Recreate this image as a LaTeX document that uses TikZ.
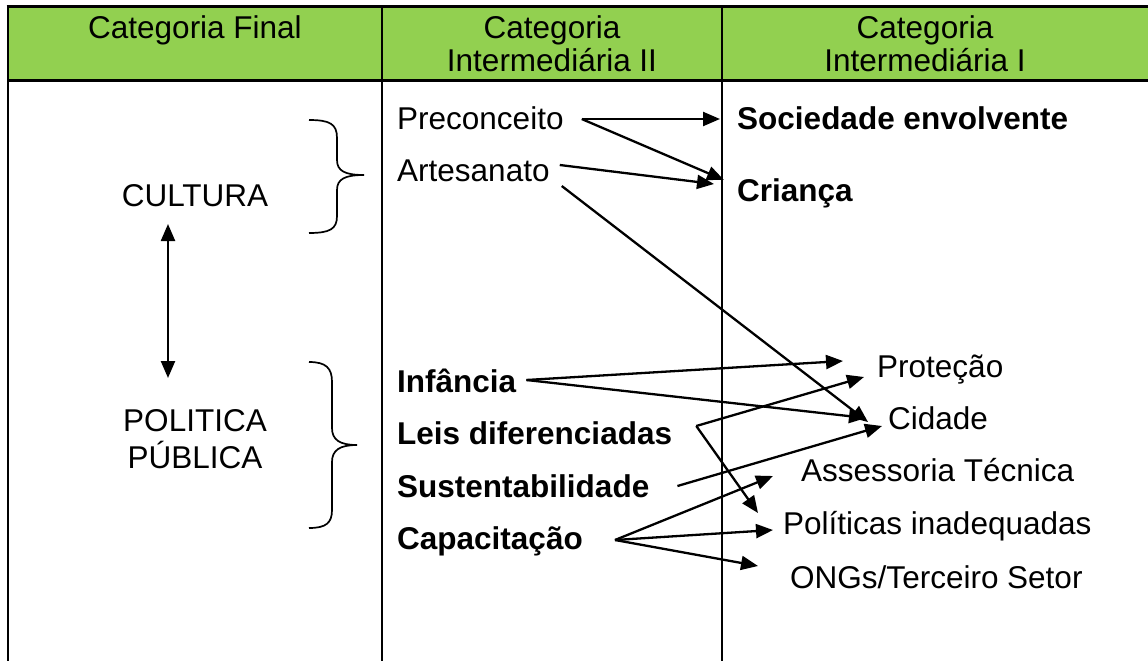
\documentclass[tikz,border=0pt]{standalone}
\usepackage{fontspec}
\setmainfont{Liberation Sans}
\usetikzlibrary{arrows.meta}
\definecolor{hdrgreen}{HTML}{92D050}
\begin{document}
\begin{tikzpicture}[x=1pt,y=-1pt,
  txt/.style={inner sep=0pt,font=\fontsize{31.5}{37}\selectfont},
  btxt/.style={txt,font=\fontsize{31.5}{37}\selectfont\bfseries},
  tip/.style={},
  arr/.style={line width=2.3pt,-{Triangle[length=17pt,width=14pt]}},
  rule/.style={line width=2.2pt},
  brace/.style={line width=1.7pt}]
\useasboundingbox (0,0) rectangle (1148,661);
% header
\fill[hdrgreen] (8,7) rectangle (1148,80);
\draw[line width=3pt] (6.5,7) -- (1148,7);
\draw[rule] (8,80.5) -- (1148,80.5);
\draw[rule] (8,6) -- (8,661);
\draw[rule] (382,7) -- (382,661);
\draw[rule] (722,7) -- (722,661);
% header texts
\node[txt,anchor=base] (h1) at (195,38) {Categoria Final};
\node[txt,anchor=base] (h2a) at (552,38) {Categoria};
\node[txt,anchor=base] (h2b) at (552,71) {Intermediária II};
\node[txt,anchor=base] (h3a) at (925,38) {Categoria};
\node[txt,anchor=base] (h3b) at (925,71) {Intermediária I};
% column 1
\node[txt,anchor=base] (cult) at (195,206) {CULTURA};
\node[txt,anchor=base] (pol1) at (195,431) {POLITICA};
\node[txt,anchor=base] (pol2) at (195,468) {PÚBLICA};
\coordinate (dtop) at (168,224);
\coordinate (dbot) at (168,378);
\draw[line width=2.3pt,{Triangle[length=17pt,width=14pt]}-{Triangle[length=17pt,width=14pt]}] (dtop) -- (dbot);
% braces
\draw[brace] (309,120) .. controls (330,120) and (337,124) .. (337,138) -- (337,160)
  .. controls (337,171) and (345,175) .. (364,175)
  .. controls (345,175) and (337,179) .. (337,190) -- (337,216)
  .. controls (337,229) and (330,233) .. (309,233);
\draw[brace] (309,362) .. controls (326,362) and (332,368) .. (332,382) -- (332,428)
  .. controls (332,440) and (340,445) .. (357,445)
  .. controls (340,445) and (332,450) .. (332,462) -- (332,510)
  .. controls (332,523) and (326,528) .. (309,528);
% column 2
\node[txt,anchor=base west] (prec) at (397,129) {Preconceito};
\node[txt,anchor=base west] (arte) at (397,181) {Artesanato};
\node[btxt,anchor=base west] (inf) at (397,392) {Infância};
\node[btxt,anchor=base west] (leis) at (397,444) {Leis diferenciadas};
\node[btxt,anchor=base west] (sust) at (397,497) {Sustentabilidade};
\node[btxt,anchor=base west] (capa) at (397,549) {Capacitação};
% column 3
\node[btxt,anchor=base west] (soc) at (737,129) {Sociedade envolvente};
\node[btxt,anchor=base west] (cri) at (737,201) {Criança};
\node[txt,anchor=base west] (prot) at (877,377) {Proteção};
\node[txt,anchor=base west] (cid) at (888,429) {Cidade};
\node[txt,anchor=base west] (asse) at (801,481) {Assessoria Técnica};
\node[txt,anchor=base west] (poli) at (783,534) {Políticas inadequadas};
\node[txt,anchor=base west] (ongs) at (790,588) {ONGs/Terceiro Setor};
% connector coordinates
\coordinate (precO) at ([xshift=18pt]prec.east |- 0,119);
\coordinate (arteO) at ([xshift=10pt]arte.east |- 0,165);
\coordinate (arteO2) at ([xshift=12pt]arte.east |- 0,186);
\coordinate (infO) at ([xshift=10pt]inf.east |- 0,380);
\coordinate (leisV) at ([xshift=24pt]leis.east |- 0,426);
\coordinate (sustO) at ([xshift=28pt]sust.east |- 0,486);
\coordinate (capaV) at ([xshift=32pt]capa.east |- 0,540);
\coordinate (tSoc) at (720,119);
\coordinate (tCri1) at (724,180);
\coordinate (tCri2) at (714,184);
\coordinate (tCid1) at (868,422);
\coordinate (tProt1) at (843,361);
\coordinate (tCid2) at (866,418);
\coordinate (tProt2) at (864,377);
\coordinate (tPoli1) at (758,513);
\coordinate (tCid3) at (882,426);
\coordinate (tAsse) at (773,476);
\coordinate (tPoli2) at (773,530);
\coordinate (tOngs) at (758,566);
% arrows
\draw[arr] (precO) -- (tSoc);
\draw[arr] (precO) -- (tCri1);
\draw[arr] (arteO) -- (tCri2);
\draw[arr] (arteO2) -- (tCid1);
\draw[arr] (infO) -- (tProt1);
\draw[arr] (infO) -- (tCid2);
\draw[arr] (leisV) -- (tProt2);
\draw[arr] (leisV) -- (tPoli1);
\draw[arr] (sustO) -- (tCid3);
\draw[arr] (capaV) -- (tAsse);
\draw[arr] (capaV) -- (tPoli2);
\draw[arr] (capaV) -- (tOngs);
\end{tikzpicture}
\end{document}
